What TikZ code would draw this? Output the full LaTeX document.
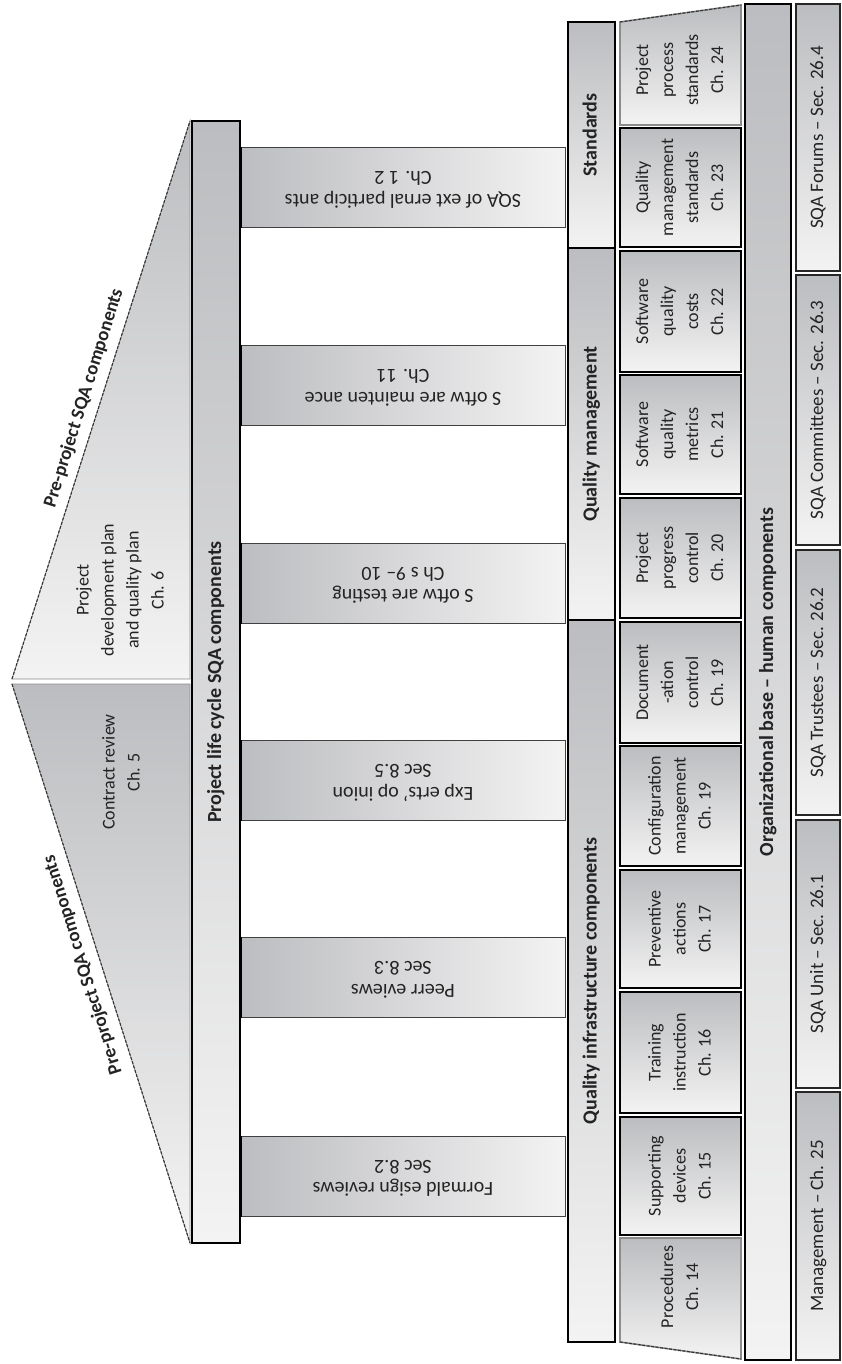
\documentclass[tikz,border=0pt]{standalone}
\usepackage{fontspec}
\setmainfont{Carlito}
\usepackage{graphicx}
\definecolor{dk}{RGB}{188,189,192}
\definecolor{lt}{RGB}{243,243,243}
\definecolor{txt}{RGB}{35,35,35}
\newcommand{\rottxt}[2][90]{\rotatebox{#1}{\begin{tabular}{@{}c@{}}#2\end{tabular}}}
\tikzset{
  vshade/.style={top color=dk, bottom color=lt},
  hshade/.style={left color=dk, right color=lt},
  comp/.style={draw=black, line width=2pt, vshade, minimum width=121pt, inner sep=0pt,
    font=\fontsize{18}{25}\selectfont},
  compl/.style={draw=black!45, line width=1.6pt, vshade},
  hdr/.style={draw=black, line width=1.6pt, vshade, minimum width=47pt, inner sep=0pt,
    font=\fontsize{20}{25}\selectfont\bfseries},
  human/.style={draw=black!85, line width=1.4pt, vshade, minimum width=44pt, inner sep=0pt,
    font=\fontsize{19}{25}\selectfont},
  col/.style={draw=black!75, line width=1pt, hshade, minimum width=324pt, minimum height=80pt,
    inner sep=0pt, font=\fontsize{20}{22.5}\selectfont},
  colend/.style={line width=3.5pt, draw=black},
  slope/.style={draw=black!80, line width=1.1pt, dash pattern=on 3pt off 1.5pt},
  lbl/.style={inner sep=0pt, font=\fontsize{18}{25}\selectfont},
  slopelbl/.style={inner sep=0pt, font=\fontsize{19}{25}\selectfont\bfseries},
}
\begin{document}
\begin{tikzpicture}[x=1pt,y=-1pt,text=txt]
\useasboundingbox (0,0) rectangle (842,1364);

% ---------- roof ----------
\path[vshade, draw=black!45, line width=0.8pt] (190,121) -- (12,679) -- (190,679) -- cycle;
\path[vshade, draw=black!45, line width=0.8pt] (12,684) -- (190,684) -- (190,1243) -- cycle;
\draw[slope] (12,679) -- (190,121);
\draw[slope] (12,684) -- (190,1243);
\node[lbl] (ppdev) at (121,590) {\rottxt{Project\\development plan\\and quality plan\\Ch. 6}};
\node[lbl] (contract) at (122,772) {\rottxt{Contract review\\Ch. 5}};
\node[slopelbl, rotate=72.6] (preup) at (84,398) {Pre-project SQA components};
\node[slopelbl, rotate=107.4] (predown) at (83,965) {Pre-project SQA components};

\node[hdr, minimum width=48pt, minimum height=1122pt, line width=1.2pt] (life) at (216,682)
  {\rottxt{Project life cycle SQA components}};

% ---------- columns ----------
\node[col] (c6) at (403,187.5) {\rottxt[180]{SQA of ext ernal particip ants\\Ch. 1 2}};
\node[col] (c5) at (403,385.5) {\rottxt[180]{S oftw are mainten ance\\Ch. 11}};
\node[col] (c4) at (403,583) {\rottxt[180]{S oftw are testing\\Ch s 9-- 10}};
\node[col] (c3) at (403,780.5) {\rottxt[180]{Exp erts' op inion\\Sec 8.5}};
\node[col] (c2) at (403,977.5) {\rottxt[180]{Peerr eviews\\Sec 8.3}};
\node[col] (c1) at (403,1176) {\rottxt[180]{Formald esign reviews\\Sec 8.2}};
\foreach \c in {c1,c2,c3,c4,c5,c6}{
  \draw[colend] (\c.north west) -- (\c.south west);
}

% ---------- group headers ----------
\node[hdr, minimum height=226pt] (std) at (591.5,135) {\rottxt{Standards}};
\node[hdr, minimum height=372pt] (qm) at (591.5,434) {\rottxt{Quality management}};
\node[hdr, minimum height=722pt] (qi) at (591.5,981) {\rottxt{Quality infrastructure components}};

% ---------- components ----------
\path[compl] (620,22) -- (741,5) -- (741,125) -- (620,125) -- cycle;
\draw[slope] (620,22) -- (741,5);
\node[lbl] (p24) at (680.5,70) {\rottxt{Project\\process\\standards\\Ch. 24}};
\node[comp, minimum height=119pt] (q23) at (680.5,187.5) {\rottxt{Quality\\management\\standards\\Ch. 23}};
\node[comp, minimum height=121pt] (s22) at (680.5,311.5) {\rottxt{Software\\quality\\costs\\Ch. 22}};
\node[comp, minimum height=119pt] (m21) at (680.5,434.5) {\rottxt{Software\\quality\\metrics\\Ch. 21}};
\node[comp, minimum height=120pt] (p20) at (680.5,558) {\rottxt{Project\\progress\\control\\Ch. 20}};
\node[comp, minimum height=121pt] (d19) at (680.5,682.5) {\rottxt{Document\\-ation\\control\\Ch. 19}};
\node[comp, minimum height=120pt] (cf19) at (680.5,806) {\rottxt{Configuration\\management\\Ch. 19}};
\node[comp, minimum height=118pt] (pa17) at (680.5,929) {\rottxt{Preventive\\actions\\Ch. 17}};
\node[comp, minimum height=121pt] (t16) at (680.5,1052.5) {\rottxt{Training\\instruction\\Ch. 16}};
\node[comp, minimum height=118pt] (sd15) at (680.5,1176) {\rottxt{Supporting\\devices\\Ch. 15}};
\path[compl] (620,1238) -- (741,1238) -- (741,1359) -- (620,1342) -- cycle;
\draw[slope] (620,1342) -- (741,1359);
\node[lbl] (p14) at (680.5,1287) {\rottxt{Procedures\\Ch. 14}};

% ---------- organizational base ----------
\node[hdr, minimum width=46pt, minimum height=1356pt] (org) at (768,682)
  {\rottxt{Organizational base -- human components}};
\node[human, minimum height=267pt] (h4) at (818,137.5) {\rottxt{SQA Forums -- Sec. 26.4}};
\node[human, minimum height=270pt] (h3) at (818,410) {\rottxt{SQA Committees -- Sec. 26.3}};
\node[human, minimum height=265pt] (h2) at (818,682.5) {\rottxt{SQA Trustees -- Sec. 26.2}};
\node[human, minimum height=268pt] (h1) at (818,954) {\rottxt{SQA Unit -- Sec. 26.1}};
\node[human, minimum height=268pt] (h0) at (818,1226) {\rottxt{Management -- Ch. 25}};
\end{tikzpicture}
\end{document}
